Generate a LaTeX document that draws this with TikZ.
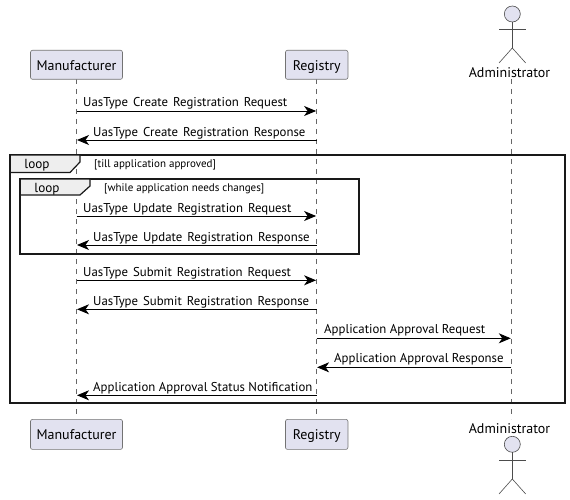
\documentclass[tikz,border=0pt]{standalone}
\usepackage{fontspec}
\setmainfont{PT Sans}
\usetikzlibrary{arrows.meta}

\definecolor{partfill}{HTML}{E2E2F0}
\definecolor{tabfill}{HTML}{EEEEEE}

\newcommand{\widemsgfont}{\fontsize{12.8}{15}\selectfont\spaceskip 5pt\relax}

\tikzset{
	part/.style={draw=black!55, fill=partfill, rounded corners=2pt, line width=0.6pt, inner sep=0pt, text height=13.6pt, text depth=3pt, font=\fontsize{14}{16}\selectfont},
	lifeline/.style={draw=black!60, line width=0.6pt, dash pattern=on 5pt off 5pt},
	msg/.style={draw=black, line width=0.9pt, -{Stealth[length=12pt,width=10pt,inset=3.5pt]}, shorten >=0.5pt},
	msgtext/.style={anchor=base west, inner sep=0pt, font=\fontsize{12.8}{15}\selectfont},
	widemsg/.style={msgtext, font=\widemsgfont},
	actorname/.style={anchor=base, inner sep=0pt, font=\fontsize{14}{16}\selectfont},
	frameline/.style={draw=black!90, line width=2pt},
	tab/.style={draw=black!90, line width=1.2pt, fill=tabfill},
	looptext/.style={anchor=base, inner sep=0pt, font=\fontsize{13.2}{15}\selectfont},
	condtext/.style={anchor=base west, inner sep=0pt, font=\fontsize{11}{13}\selectfont},
	actor/.style={draw=black!70, line width=0.6pt},
}

\begin{document}
\begin{tikzpicture}[x=1pt,y=-1pt]

	\useasboundingbox (0,0) rectangle (570,500);

% coordinate %{{{2

	\coordinate (Mt) at (76.5,79);
	\coordinate (Mb) at (76.5,419);
	\coordinate (Rt) at (316.6,79);
	\coordinate (Rb) at (316.6,419);
	\coordinate (At) at (511.3,79);
	\coordinate (Ab) at (511.3,419);

	\coordinate (M1) at (76.5,111);
	\coordinate (R1) at (316.6,111);
	\coordinate (M2) at (76.5,140);
	\coordinate (R2) at (316.6,140);
	\coordinate (M3) at (76.5,216);
	\coordinate (R3) at (316.6,216);
	\coordinate (M4) at (76.5,245);
	\coordinate (R4) at (316.6,245);
	\coordinate (M5) at (76.5,280.3);
	\coordinate (R5) at (316.6,280.3);
	\coordinate (M6) at (76.5,309.3);
	\coordinate (R6) at (316.6,309.3);
	\coordinate (R7) at (316.6,338.3);
	\coordinate (A7) at (511.3,338.3);
	\coordinate (R8) at (316.6,367.3);
	\coordinate (A8) at (511.3,367.3);
	\coordinate (M9) at (76.5,395.3);
	\coordinate (R9) at (316.6,395.3);

% lifelines %{{{2

	\draw[lifeline] (Mt) -- (Mb);
	\draw[lifeline] (Rt) -- (Rb);
	\draw[lifeline] (At) -- (Ab);

% participants %{{{2

	\node[part, minimum width=92pt, minimum height=29pt] (mantop) at (76.5,64.8) {Manufacturer};
	\node[part, minimum width=62.5pt, minimum height=29pt] (regtop) at (316.7,64.8) {Registry};
	\node[part, minimum width=92pt, minimum height=30pt] (manbot) at (76.5,434.4) {Manufacturer};
	\node[part, minimum width=62.5pt, minimum height=30pt] (regbot) at (316.7,434.4) {Registry};

% actors %{{{2

	\draw[actor, fill=partfill] (512.3,14) circle (8pt);
	\draw[actor] (512.3,22) -- (512.3,48);
	\draw[actor] (499,29) -- (525.7,29);
	\draw[actor] (499,63) -- (512.3,48) -- (525.7,63);
	\node[actorname] (admtop) at (509.5,77.5) {Administrator};

	\node[actorname] (admbot) at (509.5,433) {Administrator};
	\draw[actor, fill=partfill] (512.3,444.3) circle (8pt);
	\draw[actor] (512.3,452.3) -- (512.3,479);
	\draw[actor] (499,460) -- (525.7,460);
	\draw[actor] (499,494) -- (512.3,479) -- (525.7,494);

% loop frames %{{{2

	\draw[frameline] (10.3,155) rectangle (565.3,403.3);
	\draw[tab] (10.3,155) -- (80,155) -- (80,162) -- (70,172.5) -- (10.3,172.5) -- cycle;
	\node[looptext] (outerloop) at (37,168.5) {loop};
	\node[condtext] (outercond) at (94,167) {[till application approved]};

	\draw[frameline] (20.3,179) rectangle (358.7,253.5);
	\draw[tab] (20.3,179) -- (90,179) -- (90,186) -- (80,195) -- (20.3,195) -- cycle;
	\node[looptext] (innerloop) at (47,192.5) {loop};
	\node[condtext] (innercond) at (104,191) {[while application needs changes]};

% messages %{{{2

	\draw[msg] (M1) -- (R1);
	\draw[msg] (R2) -- (M2);
	\draw[msg] (M3) -- (R3);
	\draw[msg] (R4) -- (M4);
	\draw[msg] (M5) -- (R5);
	\draw[msg] (R6) -- (M6);
	\draw[msg] (R7) -- (A7);
	\draw[msg] (A8) -- (R8);
	\draw[msg] (R9) -- (M9);

% messages labels %{{{2

	\node[widemsg] (l1) at (83,107) {UasType Create Registration Request};
	\node[widemsg] (l2) at (93,136) {UasType Create Registration Response};
	\node[widemsg] (l3) at (83,212) {UasType Update Registration Request};
	\node[widemsg] (l4) at (93,241) {UasType Update Registration Response};
	\node[widemsg] (l5) at (83,276.3) {UasType Submit Registration Request};
	\node[widemsg] (l6) at (93,305.3) {UasType Submit Registration Response};
	\node[msgtext] (l7) at (324,333) {Application Approval Request};
	\node[msgtext] (l8) at (334,362.3) {Application Approval Response};
	\node[msgtext] (l9) at (93,391.3) {Application Approval Status Notification};

\end{tikzpicture}
\end{document}
